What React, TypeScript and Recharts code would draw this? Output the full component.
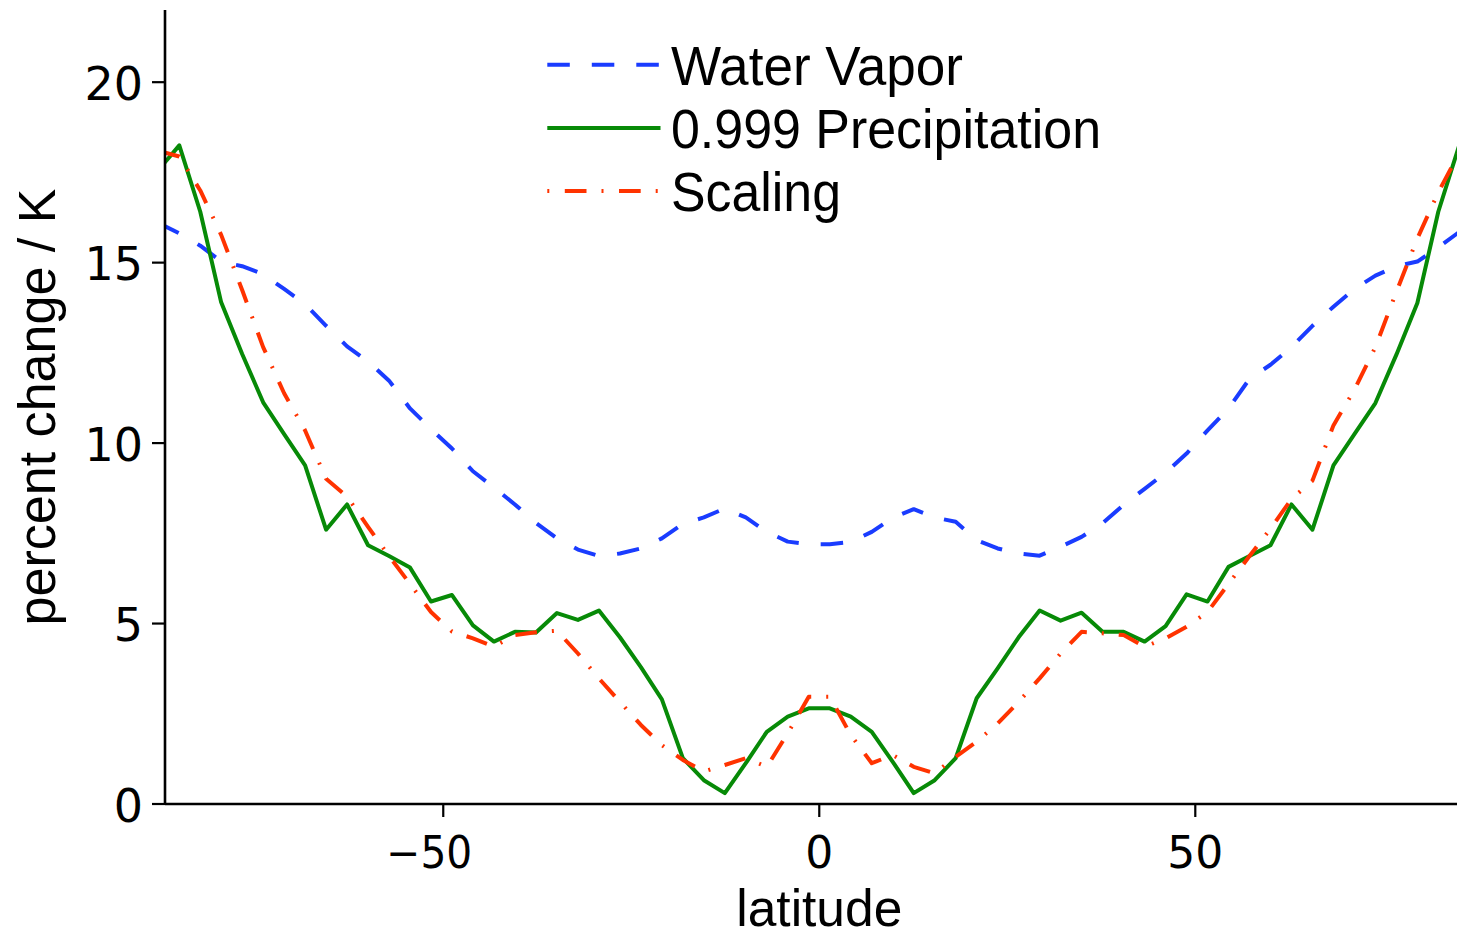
import { LineChart, Line, XAxis, YAxis, Legend } from 'recharts';

// T42 gaussian latitudes
const latitudes = [
  -87.86, -85.1, -82.31, -79.53, -76.74, -73.95, -71.16, -68.37, -65.58, -62.79, -60.0, -57.21, -54.42, -51.63, -48.84, -46.05,
  -43.26, -40.47, -37.67, -34.88, -32.09, -29.3, -26.51, -23.72, -20.93, -18.14, -15.35, -12.56, -9.77, -6.98, -4.19, -1.4,
  1.4, 4.19, 6.98, 9.77, 12.56, 15.35, 18.14, 20.93, 23.72, 26.51, 29.3, 32.09, 34.88, 37.67, 40.47, 43.26,
  46.05, 48.84, 51.63, 54.42, 57.21, 60.0, 62.79, 65.58, 68.37, 71.16, 73.95, 76.74, 79.53, 82.31, 85.1, 87.86,
];

const waterVapor = [
  16.1, 15.81, 15.47, 15.03, 14.9, 14.68, 14.27, 13.85, 13.25, 12.68, 12.26, 11.73, 10.96, 10.39, 9.85, 9.22,
  8.77, 8.3, 7.79, 7.36, 7.05, 6.87, 6.94, 7.08, 7.36, 7.76, 7.94, 8.19, 7.94, 7.54, 7.27, 7.2,
  7.2, 7.26, 7.54, 7.93, 8.17, 7.94, 7.82, 7.31, 7.08, 6.94, 6.88, 7.13, 7.4, 7.78, 8.29, 8.73,
  9.18, 9.71, 10.35, 10.96, 11.78, 12.17, 12.66, 13.25, 13.78, 14.27, 14.64, 14.9, 15.03, 15.42, 15.85, 16.1,
];

const precip999 = [
  17.57, 18.25, 16.41, 13.9, 12.47, 11.13, 10.25, 9.38, 7.6, 8.3, 7.17, 6.87, 6.55, 5.61, 5.79, 4.95,
  4.5, 4.77, 4.75, 5.29, 5.1, 5.36, 4.62, 3.79, 2.9, 1.27, 0.66, 0.3, 1.13, 2.0, 2.42, 2.65,
  2.65, 2.42, 2.0, 1.17, 0.3, 0.66, 1.27, 2.93, 3.76, 4.62, 5.36, 5.08, 5.3, 4.77, 4.77, 4.5,
  4.93, 5.81, 5.61, 6.57, 6.87, 7.17, 8.3, 7.6, 9.38, 10.25, 11.11, 12.45, 13.88, 16.41, 18.25, 17.57,
];

const scaling = [
  18.1, 17.94, 17.0, 15.77, 14.24, 12.66, 11.38, 10.35, 9.01, 8.52, 7.68, 6.87, 6.1, 5.32, 4.78, 4.59,
  4.36, 4.68, 4.76, 4.8, 4.17, 3.48, 2.83, 2.19, 1.63, 1.22, 0.9, 1.08, 1.27, 1.03, 1.96, 2.97,
  2.97, 1.91, 1.13, 1.36, 1.03, 0.85, 1.31, 1.73, 2.23, 2.83, 3.48, 4.17, 4.77, 4.73, 4.68, 4.36,
  4.59, 4.91, 5.32, 6.1, 6.87, 7.63, 8.45, 8.96, 10.49, 11.48, 12.66, 14.19, 15.67, 16.95, 18.04, 18.1,
];

const xTicks = [-50, 0, 50];
const yTicks = [0, 5, 10, 15, 20];
const xDomain: [number, number] = [-87, 84.8];
const yDomain: [number, number] = [0, 22];

const series = [
  { key: 'vapor', name: 'Water Vapor', color: '#1a3cff', dash: '22.5 22', legendDash: '22.5 22', textLen: 292 },
  { key: 'precip', name: '0.999 Precipitation', color: '#078a07', dash: undefined, legendDash: undefined, textLen: 430 },
  { key: 'scaling', name: 'Scaling', color: '#ff3300', dash: '21.7 15 2 15', legendDash: '2 15.5 21.7 15', textLen: 170 },
];

const sans = '"Liberation Sans", Arial, Helvetica, sans-serif';
const tickFont = '"DejaVu Sans", sans-serif';

const fmt = (v: number) => (v < 0 ? '\u2212' + Math.abs(v) : String(v));

function XTick({ x, y, payload }: any) {
  const neg = payload.value < 0;
  return (
    <text x={x + (neg ? -14 : 0)} y={y + 51} textAnchor="middle" fontFamily={tickFont} fontSize={44} fill="#000"
      textLength={neg ? 86 : undefined} lengthAdjust="spacingAndGlyphs">
      {fmt(payload.value)}
    </text>
  );
}

function YTick({ x, y, payload }: any) {
  return (
    <text x={x - 9} y={y + 17.5} textAnchor="end" fontFamily={tickFont} fontSize={46} fill="#000">
      {fmt(payload.value)}
    </text>
  );
}

function XTitle({ viewBox }: any) {
  const vb = viewBox || { x: 165, y: 804, width: 1292, height: 133 };
  // axes centre is latitude 0 (the figure is cropped on the right)
  const cx = vb.x + (vb.width * (0 - xDomain[0])) / (xDomain[1] - xDomain[0]);
  return (
    <text x={cx} y={vb.y + 122} textAnchor="middle" fontFamily={sans} fontSize={52} fill="#000"
      textLength={166} lengthAdjust="spacingAndGlyphs">
      latitude
    </text>
  );
}

function YTitle({ viewBox }: any) {
  const vb = viewBox || { x: 0, y: 10, width: 165, height: 794 };
  const cx = 55;
  const cy = vb.y + vb.height / 2;
  return (
    <text x={cx} y={cy} transform={`rotate(-90, ${cx}, ${cy})`} textAnchor="middle" fontFamily={sans}
      fontSize={51} fill="#000" textLength={437} lengthAdjust="spacingAndGlyphs">
      percent change / K
    </text>
  );
}

function LegendBox() {
  return (
    <svg width={600} height={220} style={{ display: 'block' }}>
      {series.map((s, i) => {
        const ly = 44.7 + i * 63.2;
        return (
          <g key={s.key}>
            <line x1={7.3} x2={120.5} y1={ly} y2={ly} stroke={s.color} strokeWidth={4} strokeDasharray={s.legendDash} />
            <text x={131} y={ly + 20.3} fontFamily={sans} fontSize={55} fill="#000"
              textLength={s.textLen} lengthAdjust="spacingAndGlyphs">
              {s.name}
            </text>
          </g>
        );
      })}
    </svg>
  );
}

export default function App() {
  const data = latitudes.map((lat, i) => ({
    lat,
    vapor: waterVapor[i],
    precip: precip999[i],
    scaling: scaling[i],
  }));

  return (
    <div style={{ position: 'absolute', left: 0, top: 0, width: 1457, height: 937, background: '#fff' }}>
      <style>{'body{margin:0;overflow:hidden;background:#fff}'}</style>
      <LineChart width={1457} height={937} data={data} margin={{ top: 10, right: 0, bottom: 0, left: 0 }}>
        <XAxis
          type="number"
          dataKey="lat"
          domain={xDomain}
          allowDataOverflow
          ticks={xTicks}
          interval={0}
          height={133}
          tickSize={13}
          tickMargin={0}
          axisLine={{ stroke: '#000', strokeWidth: 2.6 }}
          tickLine={{ stroke: '#000', strokeWidth: 2.2 }}
          tick={<XTick />}
          label={<XTitle />}
        />
        <YAxis
          type="number"
          domain={yDomain}
          allowDataOverflow
          ticks={yTicks}
          interval={0}
          width={165}
          tickSize={13}
          tickMargin={0}
          axisLine={{ stroke: '#000', strokeWidth: 2.6 }}
          tickLine={{ stroke: '#000', strokeWidth: 2.2 }}
          tick={<YTick />}
          label={<YTitle />}
        />
        {series.map((s) => (
          <Line
            key={s.key}
            type="linear"
            dataKey={s.key}
            name={s.name}
            stroke={s.color}
            strokeWidth={4}
            strokeDasharray={s.dash}
            strokeLinejoin="round"
            dot={false}
            activeDot={false}
            isAnimationActive={false}
          />
        ))}
        <Legend
          layout="horizontal"
          verticalAlign="middle"
          align="center"
          content={<LegendBox />}
          wrapperStyle={{ position: 'absolute', left: 540, top: 20, width: 600, height: 220 }}
        />
      </LineChart>
    </div>
  );
}
